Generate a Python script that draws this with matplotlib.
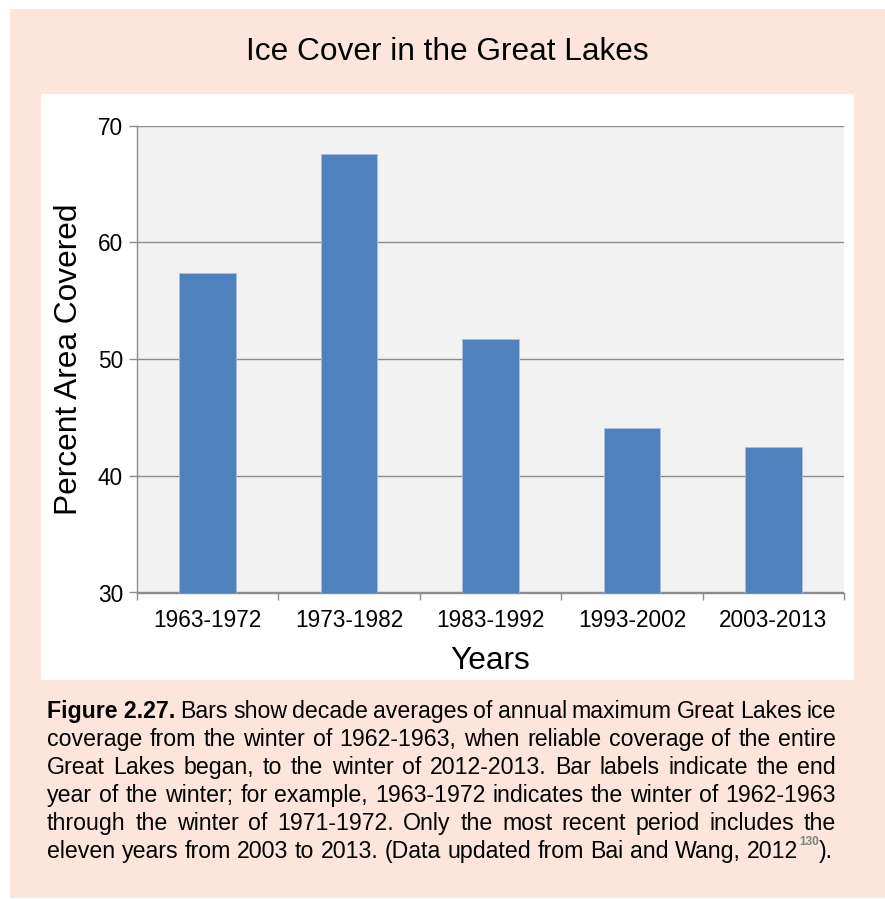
import matplotlib
matplotlib.use("Agg")
import matplotlib.pyplot as plt
from matplotlib.patches import Rectangle

plt.rcParams["font.family"] = ["Liberation Sans", "DejaVu Sans"]

periods = ["1963-1972", "1973-1982", "1983-1992", "1993-2002", "2003-2013"]
ice_cover = [57.35, 67.6, 51.7, 44.1, 42.45]
y_ticks = [30, 40, 50, 60, 70]

caption_lines = [
    [("Figure 2.27.", "bold"), ("Bars", "normal"), ("show", "normal"), ("decade", "normal"),
     ("averages", "normal"), ("of", "normal"), ("annual", "normal"), ("maximum", "normal"),
     ("Great", "normal"), ("Lakes", "normal"), ("ice", "normal")],
    "coverage from the winter of 1962-1963, when reliable coverage of the entire",
    "Great Lakes began, to the winter of 2012-2013. Bar labels indicate the end",
    "year of the winter; for example, 1963-1972 indicates the winter of 1962-1963",
    "through the winter of 1971-1972. Only the most recent period includes the",
    "eleven years from 2003 to 2013. (Data updated from Bai and Wang, 2012",
]

W, H = 885, 899
fig = plt.figure(figsize=(W / 100, H / 100), dpi=100)
fig.patch.set_facecolor("white")

peach = "#fde5db"
fig.patches.append(Rectangle((10 / W, 1 / H), 875 / W, 889 / H, transform=fig.transFigure,
                             facecolor=peach, edgecolor="none", zorder=-2))
fig.patches.append(Rectangle((41 / W, (H - 680) / H), 813 / W, 586 / H, transform=fig.transFigure,
                             facecolor="white", edgecolor="none", zorder=-1))

ax = fig.add_axes([137 / W, (H - 592.5) / H, 707 / W, 466.8 / H])
ax.set_zorder(2)
ax.set_facecolor("#f2f2f2")
x = range(len(periods))
ax.bar(x, ice_cover, width=0.4, color="#4f81bd", edgecolor="#a9c0e0", linewidth=0.6, zorder=3)
ax.set_ylim(30, 70)
ax.set_xlim(-0.5, len(periods) - 0.5)
ax.set_yticks(y_ticks)
ax.set_yticklabels([str(v) for v in y_ticks], fontsize=16.3)
ax.grid(axis="y", color="#8c8c8c", linewidth=1.0, zorder=1)
ax.set_xticks(list(x))
ax.set_xticklabels(periods, fontsize=16.3)
ax.set_xticks([i - 0.5 for i in range(len(periods) + 1)], minor=True)
ax.tick_params(axis="x", which="major", length=0, pad=12)
ax.tick_params(axis="x", which="minor", length=5, color="#8c8c8c", width=1)
ax.tick_params(axis="y", length=6, color="#8c8c8c", width=1, pad=4)
for s in ["top", "right"]:
    ax.spines[s].set_visible(False)
for s in ["left", "bottom"]:
    ax.spines[s].set_color("#8c8c8c")
    ax.spines[s].set_linewidth(1.0)
ax.set_xlabel("Years", fontsize=22.8, labelpad=10)
ax.set_ylabel("Percent Area Covered", fontsize=22.8, labelpad=10)

fig.text(447 / W, (H - 52) / H, "Ice Cover in the Great Lakes", fontsize=22.8,
         ha="center", va="center")

# justified caption, one word at a time
renderer = fig.canvas.get_renderer()
cap_size = 16.7
x_left, x_right = 47, 836
base_y0, line_step = 718, 28


def word_width(word, weight):
    t = fig.text(0, 0, word, fontsize=cap_size, fontweight=weight)
    w = t.get_window_extent(renderer).width
    t.remove()
    return w


space_w = word_width("a a", "normal") - 2 * word_width("a", "normal")
for i, line in enumerate(caption_lines):
    if isinstance(line, str):
        words = [(w, "normal") for w in line.split()]
    else:
        words = line
    widths = [word_width(w, wt) for w, wt in words]
    last = i == len(caption_lines) - 1
    gap = space_w if last else (x_right - x_left - sum(widths)) / (len(words) - 1)
    xp = x_left
    base_px = base_y0 + i * line_step
    yf = (H - base_px) / H
    for (w, wt), ww in zip(words, widths):
        fig.text(xp / W, yf, w, fontsize=cap_size, fontweight=wt, va="baseline", ha="left")
        xp += ww + gap
    if last:
        end = xp - gap + 1
        sup = fig.text(end, H - base_px + 13, "130", fontsize=8.5, fontweight="bold",
                       color="#808080", va="baseline", ha="left", transform=None)
        sw = sup.get_window_extent(renderer).width
        fig.text((end + sw) / W, yf, ").", fontsize=cap_size, va="baseline", ha="left")

fig.savefig("out.png", dpi=100, facecolor=fig.get_facecolor())
